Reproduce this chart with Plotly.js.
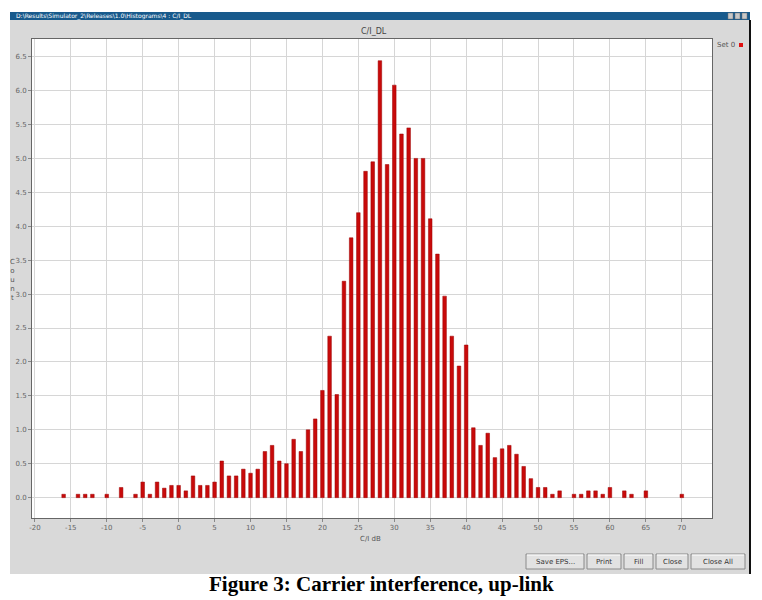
<!DOCTYPE html>
<html>
<head>
<meta charset="utf-8">
<script src="https://cdn.plot.ly/plotly-3.0.1.min.js"></script>
<style>
  html, body { margin: 0; padding: 0; background: #ffffff; }
  #chart { width: 762px; height: 600px; }
</style>
</head>
<body>
<div id="chart"></div>
<script>
// ---- data (C/I in dB, count) ----
const ciDb = [-16,-14,-13,-12,-10,-8,-6,-5,-4,-3,-2,-1,0,1,2,3,4,5,6,7,8,9,10,11,12,13,14,15,16,17,18,19,20,21,22,23,24,25,26,27,28,29,30,31,32,33,34,35,36,37,38,39,40,41,42,43,44,45,46,47,48,49,50,51,52,53,55,56,57,58,59,60,62,63,65,70];
const counts = [0.05,0.05,0.05,0.05,0.05,0.15,0.05,0.23,0.05,0.23,0.14,0.18,0.18,0.10,0.32,0.18,0.18,0.23,0.54,0.32,0.32,0.42,0.36,0.42,0.68,0.77,0.54,0.50,0.86,0.68,1.00,1.16,1.58,2.38,1.52,3.19,3.83,4.20,4.81,4.95,6.44,4.91,6.08,5.36,5.45,5.00,5.00,4.11,3.59,2.97,2.38,1.94,2.25,1.03,0.77,0.95,0.59,0.72,0.77,0.64,0.46,0.28,0.15,0.15,0.05,0.10,0.05,0.05,0.10,0.10,0.05,0.15,0.10,0.05,0.10,0.05];
const xTicks = [-20,-15,-10,-5,0,5,10,15,20,25,30,35,40,45,50,55,60,65,70];
const yTicks = [0,0.5,1,1.5,2,2.5,3,3.5,4,4.5,5,5.5,6,6.5];
const seriesName = "Set 0";
const plotTitle = "C/I_DL";
const xTitle = "C/I dB";
const yTitle = "Count";
const windowTitle = "D:\\Results\\Simulator_2\\Releases\\1.0\\Histograms\\4 : C/I_DL";
const buttonLabels = ["Save EPS...", "Print", "Fill", "Close", "Close All"];
const caption = "Figure 3: Carrier interference, up-link";

// ---- layout geometry (pixels) ----
const W = 762, H = 600;
const L = 32, R = 712, T = 39, B = 518;
const px = X => (X - L) / (R - L);
const py = Y => (B - Y) / (B - T);

function rect(x0, y0, x1, y1, fill, line, lw) {
  return {type: 'rect', xref: 'paper', yref: 'paper', layer: 'below',
    x0: px(x0), x1: px(x1), y0: py(y1), y1: py(y0),
    fillcolor: fill, line: {color: line || fill, width: lw === undefined ? 0 : lw}};
}
function seg(x0, y0, x1, y1, color, w) {
  return {type: 'line', xref: 'paper', yref: 'paper', layer: 'below',
    x0: px(x0), x1: px(x1), y0: py(y0), y1: py(y1), line: {color: color, width: w}};
}
function label(text, X, Y, size, color, opts) {
  return Object.assign({text: text, xref: 'paper', yref: 'paper', x: px(X), y: py(Y),
    xanchor: 'center', yanchor: 'middle', showarrow: false,
    font: {family: 'DejaVu Sans, Arial, sans-serif', size: size, color: color}}, opts || {});
}

const shapes = [
  rect(10, 12, 750, 574, '#d9d9d9'),
  rect(10, 12, 750, 20, '#185a8c'),
  rect(728, 13, 733, 19, '#c8c8c8', '#707070', 0.5),
  rect(735, 13, 740, 19, '#c8c8c8', '#707070', 0.5),
  rect(742, 13, 747, 19, '#c8c8c8', '#707070', 0.5),
  seg(750, 20, 750, 574, '#111111', 2),
  rect(L, T, R, B, '#ffffff'),
  rect(739, 43, 743, 47, '#e01010')
];

const buttons = [[526, 584], [587, 621], [624, 653], [656, 688], [691, 745]];
const annotations = [
  label(windowTitle, 14, 16, 6, '#ffffff', {xanchor: 'left'}),
  label(plotTitle, 374, 32, 8, '#444444'),
  label(xTitle, 370, 539, 7, '#555555'),
  label(yTitle.split('').join('<br>'), 12, 280, 7, '#555555'),
  label(seriesName, 726, 45, 7, '#555555'),
  label(caption, 382, 584, 21, '#000000', {font: {family: 'Liberation Serif, Times New Roman, serif', size: 21, color: '#000000', weight: 'bold'}})
];
buttons.forEach((b, i) => {
  shapes.push(rect(b[0], 554, b[1], 569, '#e2e2e2', '#8a8a8a', 1));
  shapes.push(seg(b[0] + 1, 555, b[1] - 1, 555, '#ffffff', 1));
  annotations.push(label(buttonLabels[i], (b[0] + b[1]) / 2, 562, 7, '#333333'));
});

const trace = {
  type: 'bar', x: ciDb, y: counts, name: seriesName, width: 0.5,
  marker: {color: '#c80a0a', line: {color: '#9a0000', width: 0.5}},
  showlegend: false, hoverinfo: 'x+y'
};

const axisCommon = {
  showgrid: true, gridcolor: '#d6d6d6', gridwidth: 1, zeroline: false,
  showline: true, linecolor: '#666666', linewidth: 1, mirror: true,
  ticks: 'outside', ticklen: 3, tickcolor: '#888888',
  tickfont: {family: 'DejaVu Sans, Arial, sans-serif', size: 7, color: '#666666'}
};

const layout = {
  width: W, height: H,
  margin: {l: L, r: W - R, t: T, b: H - B, pad: 0},
  paper_bgcolor: '#ffffff', plot_bgcolor: 'rgba(0,0,0,0)',
  showlegend: false, bargap: 0,
  xaxis: Object.assign({}, axisCommon, {range: [-20.4, 74.2], tickvals: xTicks, ticktext: xTicks.map(String)}),
  yaxis: Object.assign({}, axisCommon, {range: [-0.30, 6.76], tickvals: yTicks, tickformat: '.1f'}),
  shapes: shapes, annotations: annotations
};

Plotly.newPlot('chart', [trace], layout, {displayModeBar: false, staticPlot: true});
</script>
</body>
</html>
